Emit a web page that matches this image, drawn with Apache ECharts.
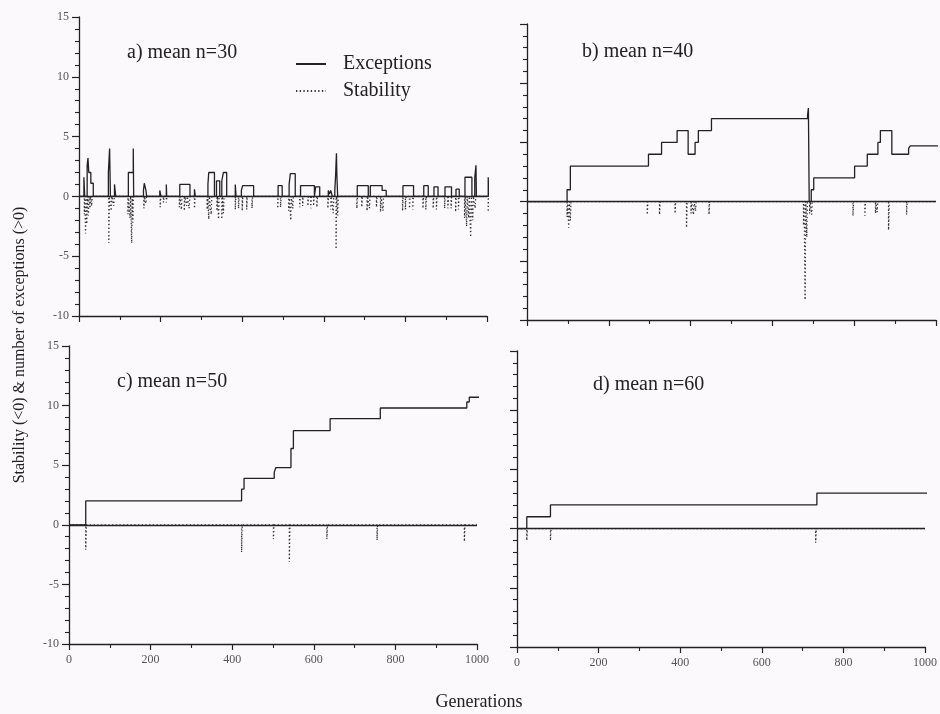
<!DOCTYPE html>
<html>
<head>
<meta charset="utf-8">
<script src="https://cdn.jsdelivr.net/npm/echarts@6/dist/echarts.min.js"></script>
<style>
  html, body { margin: 0; padding: 0; background: #fbf9fb; }
  #chart { width: 940px; height: 714px; }
</style>
</head>
<body>
<div id="chart"></div>
<script>
// exceptions: step points [generation, value], value holds until next point
const excA = [
  [0, 0], [12, 1.6], [14, 0], [20, 2.6], [22, 3.2], [24, 2], [29, 1.1], [35, 0],
  [72, 2], [75, 4], [76, 2], [77, 0], [87, 1], [90, 0],
  [121, 2], [133, 4], [134, 0],
  [158, 0.5], [160, 1.1], [164, 0.5], [166, 0],
  [198, 0.5], [201, 0], [214, 1], [215, 0],
  [247, 1], [258, 0.9], [260, 1], [272, 0], [283, 0.6], [285, 0],
  [316, 1], [318, 2], [332, 0], [337, 1.3], [345, 0], [350, 1.3], [354, 2], [362, 0],
  [383, 1], [385, 0], [398, 0.5], [401, 0.9], [428, 0],
  [488, 0.9], [498, 0], [515, 1], [518, 1.9], [530, 0], [543, 0.9], [577, 0], [580, 0.8], [590, 0],
  [611, 0.5], [614, 0.2], [617, 0.5], [621, 0], [627, 0.5], [629, 1.8], [631, 3.6], [632, 1.8], [634, 0],
  [682, 0.9], [709, 0], [714, 0.9], [743, 0.5], [753, 0],
  [794, 0.9], [820, 0], [845, 0.9], [856, 0], [870, 0.8], [880, 0], [897, 0.8], [913, 0], [924, 0.6], [932, 0],
  [946, 1.6], [963, 0], [970, 1.6], [973, 2.6], [974, 0], [1003, 1.6], [1004, 0]
];
const excB = [
  [0, 0], [98, 1], [106, 3], [297, 4], [329, 5], [367, 6], [394, 4], [411, 5], [419, 6], [451, 7],
  [686, 7.3], [688, 7.9], [690, 0], [695, 1], [701, 2], [801, 3], [832, 4], [858, 5], [864, 6],
  [892, 4], [933, 4.5], [937, 4.7], [1010, 4.7]
];
const excC = [
  [0, 0], [41, 2], [423, 3], [429, 3.9], [503, 4.4], [507, 4.8], [544, 6.4], [550, 7.9],
  [640, 8.9], [763, 9.8], [975, 10.3], [981, 10.7], [1015, 10.7]
];
const excD = [
  [0, 0], [24, 1], [82, 2], [735, 3], [1014, 3]
];

// stability: short dips below zero [generation, value]
const stabDipsA = [
  [13, -1.5], [16, -3.1], [19, -2.3], [23, -1.6], [27, -1], [31, -0.8],
  [73, -3.9], [79, -1.2], [85, -0.8],
  [120, -1.5], [125, -1.8], [129, -3.9], [132, -2.2],
  [159, -1], [164, -0.6],
  [199, -0.9], [207, -0.5], [214, -0.5],
  [246, -0.9], [251, -1.1], [258, -1.2], [264, -0.8], [270, -1], [283, -1],
  [314, -1.1], [318, -1.9], [324, -1.5], [338, -1.2], [342, -1.9], [350, -1.9], [354, -1.4],
  [383, -1.1], [391, -1], [400, -1.2], [411, -1.1], [424, -1],
  [487, -1], [494, -0.9], [514, -1.2], [519, -2], [524, -1],
  [541, -0.9], [548, -0.8], [561, -0.8], [568, -1], [575, -0.8], [583, -0.9],
  [610, -1], [617, -1.1], [623, -1.4], [630, -4.4], [634, -1.6],
  [681, -1], [693, -0.9], [706, -1.2], [712, -1], [729, -0.9], [739, -1.3], [745, -1.2],
  [793, -1.2], [800, -1.1], [810, -1], [818, -1.1], [843, -1], [850, -1.1], [868, -1], [876, -1.1],
  [896, -1], [904, -1], [912, -1], [923, -1.3], [930, -1.1],
  [945, -1.8], [950, -2.5], [955, -1.8], [960, -3.4], [965, -2], [971, -1],
  [1003, -1.3]
];
const stabDipsB = [
  [98, -1.3], [102, -2.2], [106, -1.6], [294, -1.1], [324, -1.1], [362, -1], [390, -2.2],
  [401, -1], [407, -1.1], [412, -0.8], [445, -1.1], [676, -2], [680, -8.3], [684, -3],
  [691, -1], [696, -1.1], [797, -1.2], [826, -1.2], [852, -1], [856, -0.9], [884, -2.4], [928, -1.1]
];
const stabDipsC = [
  [41, -2.1], [423, -2.3], [501, -1.2], [540, -3.1], [632, -1.2], [755, -1.3], [969, -1.4]
];
const stabDipsD = [
  [24, -1], [82, -1], [732, -1.2]
];

const panelTitles = ["a) mean n=30", "b) mean n=40", "c) mean n=50", "d) mean n=60"];

const FONT = "'Liberation Serif', 'DejaVu Serif', serif";
const INK = "#222";

function dipsToSteps(dips) {
  const pts = [[0, 0]];
  dips.forEach(([g, v]) => {
    pts.push([g, v]);
    pts.push([g + 1.5, 0]);
  });
  pts.push([1000, 0]);
  return pts;
}

const grids = [
  { left: 79, top: 17, width: 408, height: 299 },
  { left: 527, top: 24, width: 409, height: 296 },
  { left: 69, top: 346, width: 408, height: 298 },
  { left: 517, top: 351, width: 408, height: 296 },
];

const xAxes = grids.map((g, i) => ({
  type: "value",
  gridIndex: i,
  min: 0,
  max: 1000,
  interval: 200,
  axisLine: { onZero: false, lineStyle: { color: INK, width: 1.3 } },
  axisTick: { length: 6, lineStyle: { color: INK, width: 1.2 } },
  minorTick: { show: true, splitNumber: 2, length: 4, lineStyle: { color: INK, width: 1.1 } },
  splitLine: { show: false },
  axisLabel: {
    show: i >= 2,
    color: "#555",
    fontSize: 12,
    fontFamily: FONT,
    margin: 10,
    formatter: (v) => String(v),
  },
}));

const yAxes = grids.map((g, i) => ({
  type: "value",
  gridIndex: i,
  min: -10,
  max: 15,
  interval: 5,
  axisLine: { onZero: false, lineStyle: { color: INK, width: 1.3 } },
  axisTick: { length: 7, lineStyle: { color: INK, width: 1.2 } },
  minorTick: { show: true, splitNumber: 5, length: 4, lineStyle: { color: INK, width: 1.1 } },
  splitLine: { show: false },
  axisLabel: { show: i % 2 === 0, color: "#555", fontSize: 12, fontFamily: FONT, margin: 10 },
}));

const excData = [excA, excB, excC, excD];
const stabData = [stabDipsA, stabDipsB, stabDipsC, stabDipsD].map(dipsToSteps);

const series = [];
for (let i = 0; i < 4; i++) {
  series.push({
    name: "Exceptions",
    type: "line",
    xAxisIndex: i,
    yAxisIndex: i,
    step: "end",
    symbol: "none",
    clip: false,
    data: excData[i],
    lineStyle: { color: INK, width: 1.3 },
    itemStyle: { color: INK },
    markLine: {
      silent: true,
      symbol: "none",
      label: { show: false },
      lineStyle: { color: INK, width: 1.3, type: "solid" },
      data: [{ yAxis: 0 }],
    },
    z: 3,
  });
  series.push({
    name: "Stability",
    type: "line",
    xAxisIndex: i,
    yAxisIndex: i,
    step: "end",
    symbol: "none",
    data: stabData[i],
    lineStyle: { color: "#333", width: 1.3, type: [1.3, 2.4] },
    itemStyle: { color: "#333" },
    z: 2,
  });
}

const titlePos = [[127, 53], [582, 52], [117, 382], [593, 385]];

const chart = echarts.init(document.getElementById("chart"));
chart.setOption({
  animation: false,
  backgroundColor: "#fbf9fb",
  grid: grids,
  xAxis: xAxes,
  yAxis: yAxes,
  legend: {
    data: ["Exceptions", "Stability"],
    orient: "vertical",
    left: 290,
    top: 49,
    itemWidth: 30,
    itemHeight: 12,
    itemGap: 7,
    itemStyle: { opacity: 0 },
    textStyle: { color: INK, fontSize: 20, fontFamily: FONT, padding: [0, 0, 0, 12] },
  },
  graphic: [
    ...panelTitles.map((t, i) => ({
      type: "text",
      x: titlePos[i][0],
      y: titlePos[i][1],
      style: { text: t, fill: INK, font: "20px " + FONT, textVerticalAlign: "middle" },
    })),
    {
      type: "text",
      x: 20,
      y: 345,
      rotation: Math.PI / 2,
      style: {
        text: "Stability (<0) & number of exceptions (>0)",
        fill: INK,
        font: "16px " + FONT,
        textAlign: "center",
        textVerticalAlign: "middle",
      },
    },
    {
      type: "text",
      x: 479,
      y: 702,
      style: { text: "Generations", fill: INK, font: "18px " + FONT, textAlign: "center", textVerticalAlign: "middle" },
    },
  ],
  series: series,
});
</script>
</body>
</html>
